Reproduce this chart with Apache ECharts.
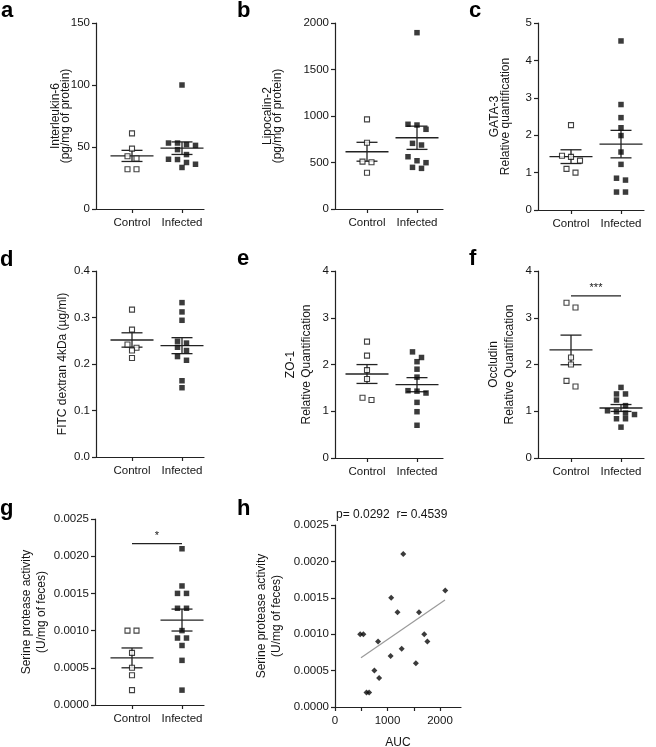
<!DOCTYPE html>
<html>
<head>
<meta charset="utf-8">
<script src="https://cdn.jsdelivr.net/npm/echarts@6/dist/echarts.min.js"></script>
<style>
html,body{margin:0;padding:0;background:#fff;}
#chart{width:656px;height:747px;}
</style>
</head>
<body>
<div id="chart"></div>
<script>
// ---------- data ----------
const groups = ['Control', 'Infected'];

const il6Control = [61, 48.7, 42.5, 40.7, 32, 32];
const il6Infected = [100, 53.2, 53.2, 51.9, 51.3, 47.9, 43.9, 40.1, 39.9, 37.5, 36.1, 33.5];

const lcn2Control = [964, 713, 509, 502, 390];
const lcn2Infected = [1896, 911, 903, 857, 706, 688, 562, 519, 498, 448, 437];

const gata3Control = [2.27, 1.45, 1.42, 1.32, 1.1, 1.0];
const gata3Infected = [4.52, 2.82, 2.47, 2.2, 1.99, 1.55, 1.22, 0.85, 0.8, 0.48, 0.48];

const fitcControl = [0.317, 0.274, 0.242, 0.235, 0.229, 0.213];
const fitcInfected = [0.332, 0.312, 0.294, 0.249, 0.245, 0.236, 0.229, 0.216, 0.208, 0.164, 0.149];

const zo1Control = [2.49, 2.19, 1.88, 1.69, 1.29, 1.24];
const zo1Infected = [2.27, 2.15, 2.06, 1.90, 1.73, 1.44, 1.43, 1.39, 1.19, 0.99, 0.70];

const occludinControl = [3.32, 3.22, 2.15, 2.0, 1.65, 1.53];
const occludinInfected = [1.51, 1.37, 1.37, 1.24, 1.12, 1.01, 0.99, 0.96, 0.93, 0.84, 0.84, 0.66];

const serineControl = [0.0010, 0.0010, 0.0007, 0.0005, 0.0004, 0.0002];
const serineInfected = [0.0021, 0.0016, 0.0015, 0.0015, 0.0013, 0.0013, 0.0010, 0.0009, 0.0009, 0.0008, 0.0006, 0.0002];

// panel h: correlation
const aucValues    = [480, 540, 820, 1070, 1300, 1190, 1600, 2100, 1700, 1760, 1270, 1060, 1540, 750, 840, 600, 650];
const serineValues = [0.0010, 0.0010, 0.0009, 0.0015, 0.0021, 0.0013, 0.0013, 0.0016, 0.0010, 0.0009, 0.0008, 0.0007, 0.0006, 0.0005, 0.0004, 0.0002, 0.0002];
const fitAuc = [495, 2095];
const fitSerine = [0.000675, 0.00147];
const corrText = 'p= 0.0292  r= 0.4539';

// significance annotations
const sigOccludin = {level: 3.47, text: '***'};
const sigSerine = {level: 0.00217, text: '*'};

// y-axis tick settings
const yMaxes = [150, 2000, 5, 0.4, 4, 4, 0.0025];
const yIntervals = [50, 500, 1, 0.1, 1, 1, 0.0005];
const yDecimals = [0, 0, 0, 1, 0, 0, 4];

// ---------- layout / style ----------
const FONT = '"Liberation Sans", Arial, Helvetica, sans-serif';
const INK = '#151515';
const LINE = '#222';
const PX_PER_GROUP = 50;

const panels = [
  {letter: 'a', ctrl: il6Control, inf: il6Infected, name: 'Interleukin-6\n(pg/mg of protein)', gap: 25, lh: 10,
   left: 96, top: 23, width: 108, height: 186, ctrlX: 132, lx: 1, ly: 0},
  {letter: 'b', ctrl: lcn2Control, inf: lcn2Infected, name: 'Lipocalin-2\n(pg/mg of protein)', gap: 52, lh: 10,
   left: 335, top: 23, width: 108, height: 186, ctrlX: 367, lx: 237, ly: 0},
  {letter: 'c', ctrl: gata3Control, inf: gata3Infected, name: 'GATA-3\nRelative quantification', gap: 27, lh: 11,
   left: 538, top: 23, width: 106, height: 187, ctrlX: 571, lx: 469, ly: 0},
  {letter: 'd', ctrl: fitcControl, inf: fitcInfected, name: 'FITC dextran 4kDa (\u00b5g/ml)', gap: 27, lh: 13,
   left: 96, top: 271, width: 108, height: 186, ctrlX: 132, lx: 0, ly: 249},
  {letter: 'e', ctrl: zo1Control, inf: zo1Infected, name: 'ZO-1\nRelative Quantification', gap: 20, lh: 16,
   left: 335, top: 271, width: 108, height: 187, ctrlX: 367, lx: 237, ly: 248},
  {letter: 'f', ctrl: occludinControl, inf: occludinInfected, name: 'Occludin\nRelative Quantification', gap: 20, lh: 16,
   left: 538, top: 271, width: 106, height: 187, ctrlX: 571, lx: 469, ly: 248},
  {letter: 'g', ctrl: serineControl, inf: serineInfected, name: 'Serine protease activity\n(U/mg of feces)', gap: 46, lh: 15,
   left: 95, top: 519, width: 109, height: 186, ctrlX: 132, lx: 0, ly: 498}
];
const panelH = {letter: 'h', left: 335, top: 525, width: 126, height: 182, xMax: 2400, gap: 51, lh: 15, lx: 237, ly: 498};

function meanSem(a) {
  const n = a.length;
  const m = a.reduce((s, v) => s + v, 0) / n;
  const sd = Math.sqrt(a.reduce((s, v) => s + (v - m) * (v - m), 0) / (n - 1));
  return [m, sd / Math.sqrt(n)];
}

// GraphPad-like row spreading of points with similar values
function swarm(values, center, pxPerUnitY) {
  const idx = values.map((v, i) => i).sort((a, b) => values[b] - values[a]);
  const rows = [];
  let cur = null;
  for (const i of idx) {
    if (cur && (values[cur[0]] - values[i]) * pxPerUnitY < 6) cur.push(i);
    else { cur = [i]; rows.push(cur); }
  }
  const out = [];
  rows.forEach(r => r.forEach((i, k) => {
    out.push([center + (k - (r.length - 1) / 2) * 9 / PX_PER_GROUP, values[i]]);
  }));
  return out;
}

function meanSemRender(params, api) {
  const c = api.value(0), m = api.value(1), s = api.value(2);
  const style = {stroke: LINE, lineWidth: 1.3};
  const seg = (x1, y1, x2, y2) => {
    const a = api.coord([x1, y1]), b = api.coord([x2, y2]);
    return {type: 'line', shape: {x1: a[0], y1: a[1], x2: b[0], y2: b[1]}, style: style};
  };
  return {type: 'group', children: [
    seg(c - 0.43, m, c + 0.43, m),
    seg(c - 0.21, m + s, c + 0.21, m + s),
    seg(c - 0.21, m - s, c + 0.21, m - s),
    seg(c, m - s, c, m + s)
  ]};
}

const grid = [], xAxis = [], yAxis = [], series = [], title = [];
const axisLineStyle = {color: LINE, width: 1.2};

function yAxisFor(i, max, interval, dec, name, gap, lh) {
  return {
    type: 'value', gridIndex: i, min: 0, max: max, interval: interval,
    axisLine: {show: true, onZero: false, lineStyle: axisLineStyle},
    axisTick: {show: true, length: 4, lineStyle: axisLineStyle},
    splitLine: {show: false},
    axisLabel: {fontSize: 11.5, color: INK, fontFamily: FONT, margin: 6,
                formatter: v => v.toFixed(dec)},
    name: name, nameLocation: 'middle', nameGap: gap, nameMoveOverlap: false,
    nameTextStyle: {fontSize: 12, lineHeight: lh, color: INK, fontFamily: FONT}
  };
}

panels.forEach((p, i) => {
  grid.push({left: p.left, top: p.top, width: p.width, height: p.height,
             containLabel: false, outerBoundsMode: 'none'});
  const xmin = -(p.ctrlX - p.left) / PX_PER_GROUP;
  xAxis.push({
    type: 'value', gridIndex: i, min: xmin, max: xmin + p.width / PX_PER_GROUP,
    axisLine: {show: true, onZero: false, lineStyle: axisLineStyle},
    axisTick: {show: true, length: 4, customValues: [0, 1], lineStyle: axisLineStyle},
    axisLabel: {show: true, customValues: [0, 1], fontSize: 11.5, color: INK, fontFamily: FONT, margin: 8,
                formatter: v => groups[Math.round(v)]},
    splitLine: {show: false}
  });
  yAxis.push(yAxisFor(i, yMaxes[i], yIntervals[i], yDecimals[i], p.name, p.gap, p.lh));
  const pxY = p.height / yMaxes[i];
  const [mc, sc] = meanSem(p.ctrl);
  const [mi, si] = meanSem(p.inf);
  series.push({
    type: 'custom', xAxisIndex: i, yAxisIndex: i, renderItem: meanSemRender, clip: false, z: 2,
    data: [[0, mc, sc], [1, mi, si]], silent: true
  });
  series.push({
    type: 'scatter', xAxisIndex: i, yAxisIndex: i, symbol: 'rect', symbolSize: 5, z: 3, silent: true,
    itemStyle: {color: '#fff', borderColor: '#111', borderWidth: 1.1},
    data: swarm(p.ctrl, 0, pxY)
  });
  series.push({
    type: 'scatter', xAxisIndex: i, yAxisIndex: i, symbol: 'rect', symbolSize: 5.5, z: 3, silent: true,
    itemStyle: {color: '#0a0a0a'},
    data: swarm(p.inf, 1, pxY)
  });
  title.push({text: p.letter, left: p.lx, top: p.ly, padding: 0,
              textStyle: {fontSize: 22, fontWeight: 'bold', color: '#000', fontFamily: FONT}});
});

// significance bars
function sigSeries(axisIdx, sig) {
  return {
    type: 'line', xAxisIndex: axisIdx, yAxisIndex: axisIdx, silent: true, z: 2,
    symbol: 'none', lineStyle: {color: LINE, width: 1.2},
    data: [[0, sig.level], [1, sig.level]],
    markPoint: {
      symbol: 'circle', symbolSize: 0, silent: true,
      label: {show: true, position: 'top', distance: 2, formatter: sig.text,
              fontSize: 11, color: INK, fontFamily: FONT},
      data: [{coord: [0.5, sig.level]}]
    }
  };
}
series.push(sigSeries(5, sigOccludin));
series.push(sigSeries(6, sigSerine));

// panel h
const hi = panels.length;
grid.push({left: panelH.left, top: panelH.top, width: panelH.width, height: panelH.height,
           containLabel: false, outerBoundsMode: 'none'});
xAxis.push({
  type: 'value', gridIndex: hi, min: 0, max: panelH.xMax,
  axisLine: {show: true, onZero: false, lineStyle: axisLineStyle},
  axisTick: {show: true, length: 4, customValues: [0, 500, 1000, 1500, 2000], lineStyle: axisLineStyle},
  axisLabel: {show: true, customValues: [0, 1000, 2000], fontSize: 11.5, color: INK, fontFamily: FONT, margin: 8,
              formatter: v => String(Math.round(v))},
  splitLine: {show: false},
  name: 'AUC', nameLocation: 'middle', nameGap: 30,
  nameTextStyle: {fontSize: 12, color: INK, fontFamily: FONT}
});
yAxis.push(yAxisFor(hi, 0.0025, 0.0005, 4, 'Serine protease activity\n(U/mg of feces)', panelH.gap, panelH.lh));
series.push({
  type: 'line', xAxisIndex: hi, yAxisIndex: hi, silent: true, z: 2, symbol: 'none',
  lineStyle: {color: '#9a9a9a', width: 1.2},
  data: fitAuc.map((x, k) => [x, fitSerine[k]])
});
series.push({
  type: 'scatter', xAxisIndex: hi, yAxisIndex: hi, symbol: 'diamond', symbolSize: 6, z: 3, silent: true,
  itemStyle: {color: '#0a0a0a'},
  data: aucValues.map((x, k) => [x, serineValues[k]])
});
title.push({text: panelH.letter, left: panelH.lx, top: panelH.ly, padding: 0,
            textStyle: {fontSize: 22, fontWeight: 'bold', color: '#000', fontFamily: FONT}});
title.push({text: corrText, left: 336, top: 509, padding: 0,
            textStyle: {fontSize: 12, fontWeight: 'normal', color: INK, fontFamily: FONT}});

const chart = echarts.init(document.getElementById('chart'), null, {renderer: 'canvas'});
chart.setOption({
  animation: false,
  backgroundColor: '#fff',
  textStyle: {fontFamily: FONT},
  title: title,
  grid: grid,
  xAxis: xAxis,
  yAxis: yAxis,
  series: series
});
</script>
</body>
</html>
